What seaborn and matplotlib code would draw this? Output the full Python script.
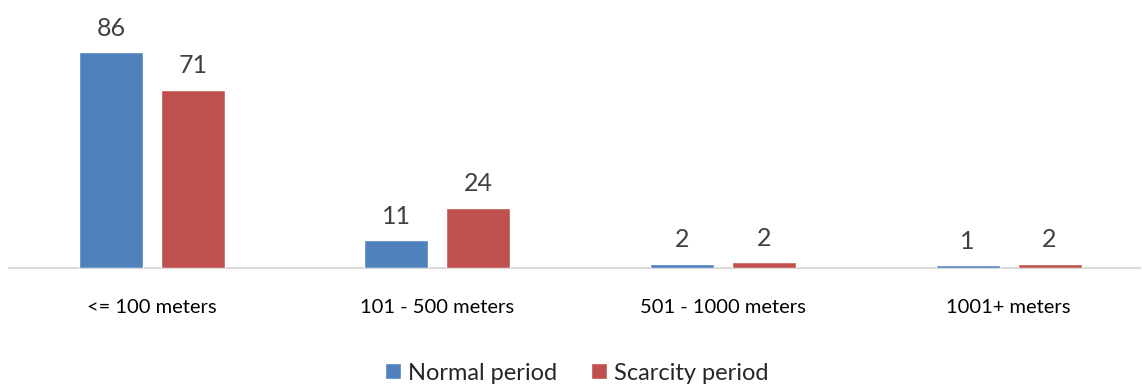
import pandas as pd
import matplotlib
matplotlib.use("Agg")
import matplotlib.pyplot as plt
import seaborn as sns

# Data (bar heights; labels shown rounded)
categories = ["<= 100 meters", "101 - 500 meters", "501 - 1000 meters", "1001+ meters"]
normal_period = [86, 11, 1.6, 1.0]
scarcity_period = [71, 24, 2.3, 1.6]
series_names = ["Normal period", "Scarcity period"]

df = pd.DataFrame({
    "Distance": categories * 2,
    "Value": normal_period + scarcity_period,
    "Period": [series_names[0]] * 4 + [series_names[1]] * 4,
})

sns.set_style("white")
plt.rcParams["font.family"] = ["Lato", "DejaVu Sans"]

fig = plt.figure(figsize=(11.42, 3.88), dpi=100)
ax = fig.add_axes([9 / 1142, 120 / 388, 1131 / 1142, 251 / 388])

sns.barplot(data=df, x="Distance", y="Value", hue="Period",
            palette=["#4F81BD", "#C0504D"], width=0.574, gap=0.22,
            saturation=1, ax=ax)

# data labels above bars
for cont in ax.containers:
    ax.bar_label(cont, fmt="%.0f", padding=9, fontsize=18, color="#404040")

ax.set_ylim(0, 100)
ax.set_xlim(-0.5, 3.46)
ax.set_xlabel("")
ax.set_ylabel("")
ax.set_yticks([])
ax.tick_params(axis="x", length=0, labelsize=14.5, pad=22, colors="black")
for s in ["top", "right", "left"]:
    ax.spines[s].set_visible(False)
ax.spines["bottom"].set_color("#D9D9D9")
ax.spines["bottom"].set_linewidth(1.5)
ax.spines["bottom"].set_zorder(0.5)

handles, labels = ax.get_legend_handles_labels()
ax.get_legend().remove()
fig.legend(handles, labels, loc="center", bbox_to_anchor=(0.505, 15 / 388), ncol=2,
           frameon=False, fontsize=17, handlelength=0.68, handleheight=0.68,
           handletextpad=0.3, columnspacing=1.4)

fig.savefig("out.png", dpi=100)
